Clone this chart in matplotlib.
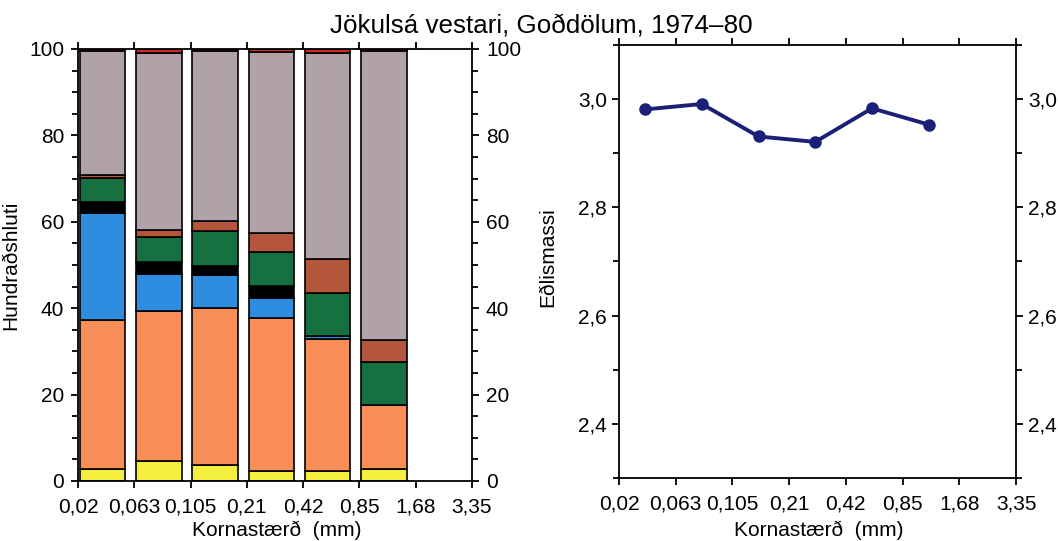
import matplotlib
matplotlib.use("Agg")
import matplotlib.pyplot as plt
import numpy as np
from matplotlib.ticker import MultipleLocator

plt.rcParams["font.family"] = ["Liberation Sans", "DejaVu Sans"]

# grain size class boundaries (mm)
size_edges = ["0,02", "0,063", "0,105", "0,21", "0,42", "0,85", "1,68", "3,35"]

# mineral composition per size class, % (stacked bottom -> top)
yellow = [2.7, 4.6, 3.7, 2.4, 2.3, 2.8]
orange = [34.5, 34.7, 36.4, 35.3, 30.5, 14.7]
blue = [24.8, 8.7, 7.6, 4.6, 0.8, 0.0]
black = [2.5, 2.6, 2.1, 2.8, 0.0, 0.0]
green = [5.6, 5.8, 8.1, 7.9, 9.9, 10.1]
brown = [0.8, 1.6, 2.4, 4.4, 7.8, 5.0]
grey = [28.7, 41.1, 39.2, 41.8, 47.8, 67.0]
red = [0.4, 0.9, 0.5, 0.8, 0.9, 0.4]

# density per size class
density = [2.981, 2.991, 2.931, 2.921, 2.983, 2.953]

LAYERS = [
    (yellow, "#f4ee3e"),
    (orange, "#f98f58"),
    (blue, "#2f8de0"),
    (black, "#000000"),
    (green, "#17703f"),
    (brown, "#b4563b"),
    (grey, "#b0a2a8"),
    (red, "#cc2a1e"),
]

W, H = 1058, 541
fig = plt.figure(figsize=(W / 100, H / 100), dpi=100)
fig.patch.set_facecolor("white")


def box(x0, x1, ytop, ybot):
    # pixel box -> figure fraction rect
    return [x0 / W, 1 - ybot / H, (x1 - x0) / W, (ybot - ytop) / H]


def style(ax, ypad):
    for s in ax.spines.values():
        s.set_linewidth(1.3)
    ax.tick_params(which="both", direction="out", labelsize=15,
                   top=True, right=True, labelright=True, width=1.3)
    ax.tick_params(which="major", length=5)
    ax.tick_params(which="minor", length=4)
    ax.tick_params(axis="x", pad=7)
    ax.tick_params(axis="y", pad=ypad)
    ax.set_xlim(0, len(size_edges) - 1)
    ax.set_xticks(range(len(size_edges)))
    ax.set_xticklabels(size_edges)


# stacked composition bars
ax1 = fig.add_axes(box(78, 472, 49, 481))
style(ax1, 5)
x = np.arange(len(yellow)) + 0.03
bottom = np.zeros(len(yellow))
for vals, color in LAYERS:
    ax1.bar(x, vals, width=0.81, bottom=bottom, align="edge", color=color,
            edgecolor="black", linewidth=1.2, zorder=2)
    bottom += np.array(vals)
ax1.set_ylim(0, 100)
ax1.yaxis.set_major_locator(MultipleLocator(20))
ax1.yaxis.set_minor_locator(MultipleLocator(5))
ax1.set_ylabel("Hundraðshluti", fontsize=15)
ax1.yaxis.set_label_coords(-0.147, 0.5)

# density line
ax2 = fig.add_axes(box(619, 1016, 45, 478))
style(ax2, 3.5)
xc = np.arange(len(density)) + 0.46
ax2.plot(xc, density, color="#1b1f78", linewidth=2.8, marker="o",
         markersize=8, zorder=3)
ax2.set_ylim(2.3, 3.1)
ax2.yaxis.set_major_locator(MultipleLocator(0.2))
ax2.yaxis.set_minor_locator(MultipleLocator(0.1))
ax2.yaxis.set_major_formatter(lambda v, _p: f"{v:.1f}".replace(".", ","))
ax2.set_ylabel("Eðlismassi", fontsize=15)
ax2.yaxis.set_label_coords(-0.156, 0.51)

for cx in (277, 819):
    fig.text(cx / W, 1 - 521 / H, "Kornastærð  (mm)", fontsize=15,
             ha="center", va="top")

fig.text(541 / W, 1 - 33 / H, "Jökulsá vestari, Goðdölum, 1974–80",
         fontsize=18.7, ha="center", va="baseline")

fig.savefig("out.png", dpi=100, facecolor="white")
